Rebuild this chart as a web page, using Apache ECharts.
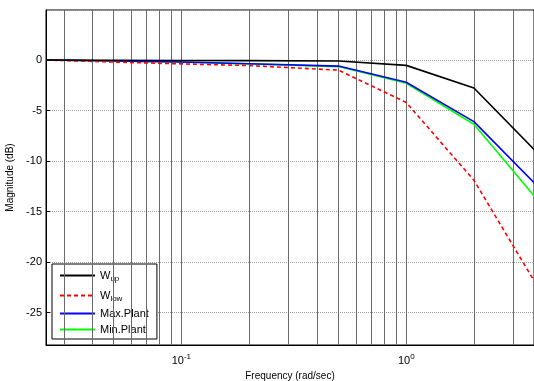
<!DOCTYPE html>
<html>
<head>
<meta charset="utf-8">
<script src="https://cdn.jsdelivr.net/npm/echarts@6/dist/echarts.min.js"></script>
<style>
  html, body { margin: 0; padding: 0; background: #fff; }
  #chart { width: 534px; height: 381px; }
</style>
</head>
<body>
<div id="chart"></div>
<script>
// frequency points (rad/sec) and magnitudes (dB)
var freqs = [0.025, 0.05, 0.1, 0.2, 0.5, 1, 2, 5];
var wUp = [0, -0.02, -0.04, -0.06, -0.1, -0.53, -2.77, -11.8];
var wLow = [0, -0.2, -0.38, -0.55, -1.0, -4.2, -11.9, -26.7];
var maxPlant = [0, -0.1, -0.2, -0.37, -0.6, -2.2, -6.1, -15.1];
var minPlant = [0, -0.1, -0.2, -0.38, -0.65, -2.3, -6.35, -16.9];

// vertical grid positions (log decades)
var gridFreqs = [0.03, 0.04, 0.05, 0.06, 0.07, 0.08, 0.09, 0.1,
  0.2, 0.3, 0.4, 0.5, 0.6, 0.7, 0.8, 0.9, 1, 2, 3];

var seriesNames = ['W_up', 'W_low', 'Max.Plant', 'Min.Plant'];
var seriesColors = ['#000000', '#ff0000', '#0000ff', '#00ff00'];
var seriesValues = [wUp, wLow, maxPlant, minPlant];

var chart = echarts.init(document.getElementById('chart'));

function pairs(vals) {
  return freqs.map(function (f, i) { return [f, vals[i]]; });
}

var series = seriesValues.map(function (vals, k) {
  return {
    name: seriesNames[k],
    type: 'line',
    data: pairs(vals),
    symbol: 'none',
    z: 10 - k,
    lineStyle: {
      color: seriesColors[k],
      width: 1.6,
      type: k === 1 ? [4, 3] : 'solid'
    },
    itemStyle: { color: seriesColors[k] }
  };
});

// vertical grid lines drawn through the x scale
series.push({
  name: 'grid',
  type: 'line',
  data: [],
  silent: true,
  markLine: {
    silent: true,
    symbol: 'none',
    label: { show: false },
    lineStyle: { color: '#6a6a6a', width: 1, type: 'solid' },
    data: gridFreqs.map(function (f) { return { xAxis: f }; })
  }
});

var option = {
  animation: false,
  textStyle: { fontFamily: 'Liberation Sans, Arial, sans-serif' },
  grid: {
    left: 46, top: 10, right: 0, bottom: 36,
    containLabel: false,
    outerBoundsMode: 'none',
    show: true, borderColor: '#000', borderWidth: 1
  },
  legend: {
    data: seriesNames,
    orient: 'vertical',
    left: 52, top: 264,
    itemWidth: 35, itemHeight: 10, itemGap: 5,
    padding: [4, 8, 4, 7],
    borderColor: '#000', borderWidth: 1,
    backgroundColor: '#fff',
    itemStyle: { opacity: 0 },
    formatter: function (name) {
      if (name === 'W_up') return '{a|W}{s|up}';
      if (name === 'W_low') return '{a|W}{s|low}';
      return '{a|' + name + '}';
    },
    textStyle: {
      color: '#000',
      rich: {
        a: { fontSize: 11, lineHeight: 14, color: '#000' },
        s: { fontSize: 8, lineHeight: 14, padding: [7, 0, 0, 0], color: '#000' }
      }
    }
  },
  xAxis: {
    type: 'log',
    logBase: 10,
    min: 0.025,
    max: 3.7,
    name: 'Frequency (rad/sec)',
    nameLocation: 'middle',
    nameGap: 24,
    nameTextStyle: { fontSize: 10, color: '#000' },
    axisLine: { onZero: false, lineStyle: { color: '#000' } },
    axisTick: { show: false },
    splitLine: { show: false },
    axisLabel: {
      margin: 8,
      color: '#000',
      formatter: function (v) {
        var e = Math.log(v) / Math.LN10;
        var r = Math.round(e);
        if (Math.abs(e - r) > 1e-6) return '';
        return '{a|10}{s|' + r + '}';
      },
      rich: {
        a: { fontSize: 11, color: '#000' },
        s: { fontSize: 8, color: '#000', padding: [0, 0, 7, 0] }
      }
    }
  },
  yAxis: {
    type: 'value',
    min: -28.2,
    max: 4.95,
    name: 'Magnitude (dB)',
    nameLocation: 'middle',
    nameGap: 29,
    nameTextStyle: { fontSize: 10, color: '#000' },
    axisLine: { show: true, lineStyle: { color: '#000' } },
    axisTick: { show: true, inside: true, length: 4, lineStyle: { color: '#000' } },
    axisLabel: {
      fontSize: 11, color: '#000', margin: 4,
      showMinLabel: false, showMaxLabel: false
    },
    splitLine: { show: true, lineStyle: { color: '#999', type: [1, 1], width: 1 } }
  },
  series: series
};

chart.setOption(option);
</script>
</body>
</html>
